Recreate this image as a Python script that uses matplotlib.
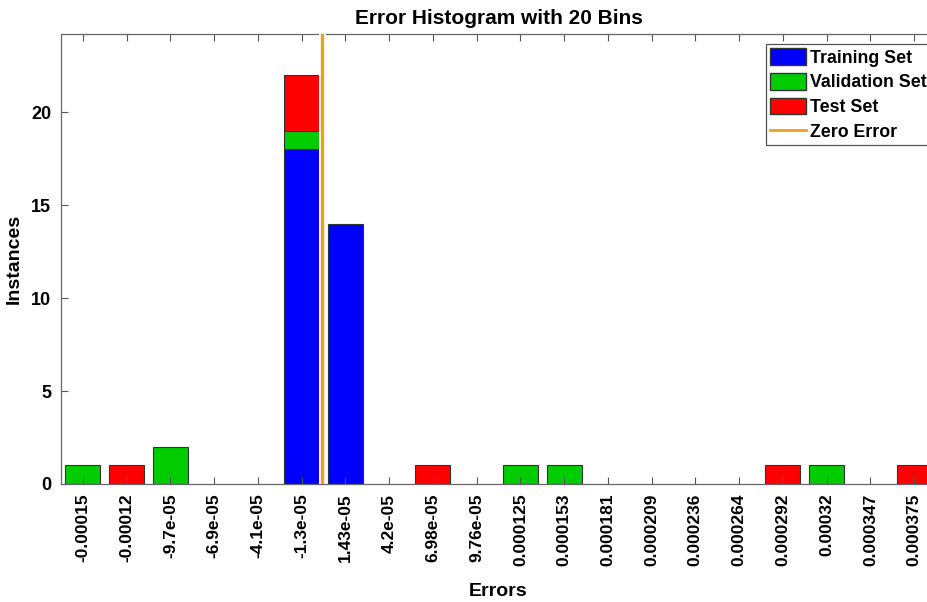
import matplotlib
matplotlib.use("Agg")
import matplotlib.pyplot as plt
import numpy as np
from matplotlib.patches import Patch
from matplotlib.lines import Line2D

plt.rcParams['font.family'] = ['Liberation Sans', 'DejaVu Sans']
plt.rcParams['font.weight'] = 'bold'

# bin centre labels (as shown on the x axis)
bin_labels = ["-0.00015", "-0.00012", "-9.7e-05", "-6.9e-05", "-4.1e-05",
              "-1.3e-05", "1.43e-05", "4.2e-05", "6.98e-05", "9.76e-05",
              "0.000125", "0.000153", "0.000181", "0.000209", "0.000236",
              "0.000264", "0.000292", "0.00032", "0.000347", "0.000375"]

training   = [0, 0, 0, 0, 0, 18, 14, 0, 0, 0, 0, 0, 0, 0, 0, 0, 0, 0, 0, 0]
validation = [1, 0, 2, 0, 0, 1, 0, 0, 0, 0, 1, 1, 0, 0, 0, 0, 0, 1, 0, 0]
test       = [0, 1, 0, 0, 0, 3, 0, 0, 1, 0, 0, 0, 0, 0, 0, 0, 1, 0, 0, 1]

training = np.array(training)
validation = np.array(validation)
test = np.array(test)
idx = np.arange(len(bin_labels))
centers = np.array([float(s) for s in bin_labels])
zero_pos = np.interp(0.0, centers, idx)

fig = plt.figure(figsize=(9.28, 6.02), dpi=100)
ax = fig.add_axes([61/928, 118/602, 875/928, 450/602])

blue = '#0000ff'
green = '#00cc00'
red = '#ff0000'
ec = '#333333'


def stack(vals, bottom, color):
    m = vals > 0
    ax.bar(idx[m], vals[m], width=0.8, bottom=bottom[m], color=color,
           edgecolor=ec, linewidth=0.8)


stack(training, np.zeros_like(training), blue)
stack(validation, training, green)
stack(test, training + validation, red)

ax.axvline(zero_pos, color='white', linewidth=5, zorder=3)
ax.axvline(zero_pos, color='#f0a020', linewidth=2.4, zorder=4)

total = training + validation + test
ax.set_xlim(-0.5, len(bin_labels) - 0.5)
ax.set_ylim(0, total.max() * 1.1)

ax.set_xticks(idx)
ax.set_xticklabels(bin_labels, rotation=90, fontsize=12.5, fontweight='bold')
ax.set_yticks([0, 5, 10, 15, 20])
ax.tick_params(axis='y', labelsize=13)
ax.tick_params(direction='in', length=5, width=0.8, color='#555555',
               top=True, right=True)
ax.tick_params(axis='x', pad=7)
ax.tick_params(axis='y', pad=7)
for s in ax.spines.values():
    s.set_color('#666666')
    s.set_linewidth(0.9)

ax.set_title("Error Histogram with 20 Bins", fontsize=15, fontweight='bold', pad=7)
ax.set_xlabel("Errors", fontsize=14, fontweight='bold', labelpad=12)
ax.set_ylabel("Instances", fontsize=14, fontweight='bold', labelpad=6)

handles = [Patch(facecolor=blue, edgecolor=ec),
           Patch(facecolor=green, edgecolor=ec),
           Patch(facecolor=red, edgecolor=ec),
           Line2D([], [], color='#f0a020', linewidth=2)]
names = ["Training Set", "Validation Set", "Test Set", "Zero Error"]
leg = ax.legend(handles, names, loc='upper left',
                bbox_to_anchor=((766 - 61) / 875, (484 - 44) / 450),
                prop={'family': 'Liberation Sans', 'weight': 'bold', 'size': 12.8},
                fancybox=False, framealpha=1, edgecolor='#555555',
                borderpad=0.25, labelspacing=0.36, handlelength=2.0,
                handleheight=1.05, handletextpad=0.2, borderaxespad=0)
leg.get_frame().set_linewidth(0.9)

fig.savefig("out.png", dpi=100)
